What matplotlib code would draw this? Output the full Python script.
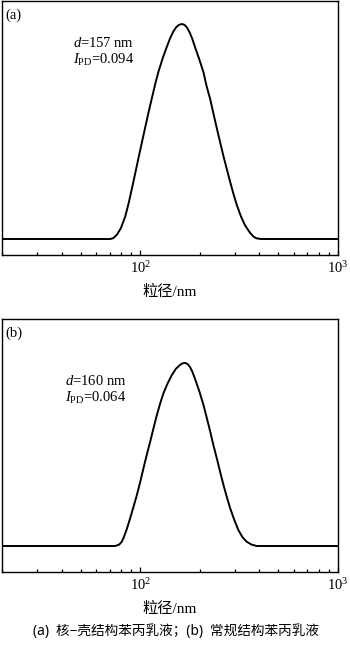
import matplotlib
matplotlib.use("Agg")
import matplotlib.pyplot as plt
from matplotlib.ticker import FixedLocator, FixedFormatter, LogLocator, NullFormatter

plt.rcParams['font.family'] = ['Liberation Serif', 'Noto Sans CJK SC']
plt.rcParams['mathtext.fontset'] = 'custom'
plt.rcParams['mathtext.rm'] = 'Liberation Serif'
plt.rcParams['mathtext.it'] = 'Liberation Serif:italic'
plt.rcParams['mathtext.bf'] = 'Liberation Serif:bold'

# Particle size distribution (a): core-shell emulsion (size in nm, relative intensity)
size_a = [20, 62.8, 70.5, 73.1, 76.2, 79.8, 84.0, 87.3, 90.8, 94.3, 98.0, 102.0,
          106.0, 110.2, 114.6, 119.0, 123.6, 129.8, 136.4, 141.8, 147.0, 152.0,
          157.0, 162.4, 167.5, 172.5, 178.0, 183.5, 189.7, 199.0, 208.9, 216.0,
          225.9, 235.0, 243.9, 253.5, 263.6, 274.0, 285.0, 296.0, 307.9, 323.0,
          339.0, 359.5, 375.0, 388.0, 408.0, 1000]
inten_a = [0, 0, 0, 0.4, 2.0, 5.0, 10.5, 16.5, 23.5, 30.5, 37.7, 45,
           52, 59, 65.6, 72, 77.8, 84, 89.5, 93.5, 96.5, 98.5,
           99.6, 100, 99.6, 98.3, 96, 93, 89, 83.5, 77.5, 71.5,
           65, 58, 51.5, 45, 38.5, 32.5, 26.5, 21, 15.8, 10.5,
           6.3, 2.8, 1.0, 0.3, 0, 0]

# Particle size distribution (b): conventional emulsion
size_b = [20, 62.8, 74.8, 78.3, 80.5, 82.4, 85.5, 89.0, 92.5, 96.2, 100.0, 103.9,
          108.0, 112.3, 116.8, 121.4, 126.2, 131.2, 137.5, 144.5, 151.5, 159.2,
          164.0, 168.8, 173.5, 178.5, 183.5, 189.7, 199.0, 208.9, 217.0, 225.9,
          234.5, 243.9, 253.5, 263.6, 274.0, 285.0, 299.0, 313.6, 329.0, 345.6,
          365.0, 388.0, 1000]
inten_b = [0, 0, 0, 0.8, 2.2, 4.5, 9.2, 15.3, 21.5, 27.9, 35, 42.6,
           50, 57.0, 64.5, 71.6, 78, 83.6, 88.8, 93.4, 96.8, 99.0,
           99.8, 100, 99.4, 97.8, 95.2, 91.0, 84.5, 77.0, 70, 62.5,
           55, 47.9, 40.5, 33.3, 26.8, 20.6, 14.2, 8.7, 4.8, 2.3,
           0.8, 0, 0]

panel_labels = ['(a)', '(b)']
d_labels = ['157', '160']
pdi_labels = ['0.094', '0.064']
tick_vals = [100, 1000]
tick_labels = ['$10^{2}$', '$10^{3}$']
xlabel = '粒径/nm'
caption = '(a)  核−壳结构苯丙乳液；(b)  常规结构苯丙乳液'

W, H = 350, 648
fig = plt.figure(figsize=(W / 100, H / 100), dpi=100)

def frac(px_left, px_top, px_right, px_bottom):
    return [px_left / W, 1 - px_bottom / H, (px_right - px_left) / W, (px_bottom - px_top) / H]

panels = [
    dict(rect=frac(2, 1, 338, 255), x=size_a, y=inten_a, ylim=(-7.44, 110.7),
         lab=(5, 15), txt=(73, 43)),
    dict(rect=frac(2, 319, 338, 572), x=size_b, y=inten_b, ylim=(-14.2, 124.0),
         lab=(5, 333), txt=(65, 381)),
]

for i, p in enumerate(panels):
    ax = fig.add_axes(p['rect'])
    ax.plot(p['x'], p['y'], color='black', lw=1.4, solid_joinstyle='round',
            solid_capstyle='round')
    ax.set_xscale('log')
    ax.set_xlim(20, 1000)
    ax.set_ylim(*p['ylim'])
    ax.xaxis.set_major_locator(FixedLocator(tick_vals))
    ax.xaxis.set_major_formatter(FixedFormatter(tick_labels))
    ax.xaxis.set_minor_locator(LogLocator(base=10, subs=range(2, 10)))
    ax.xaxis.set_minor_formatter(NullFormatter())
    ax.tick_params(axis='x', which='major', direction='in', length=3.5, width=0.9,
                   labelsize=10.5, pad=4)
    ax.tick_params(axis='x', which='minor', direction='in', length=2.2, width=0.9)
    ax.tick_params(axis='y', left=False, labelleft=False)
    for s in ax.spines.values():
        s.set_linewidth(1.0)
    ax.set_xlabel(xlabel, fontsize=11, labelpad=6)

    lx, ly = p['lab']
    fig.text(lx / W, 1 - ly / H, panel_labels[i], fontsize=10.5, va='center', ha='left')
    tx, ty = p['txt']
    fig.text(tx / W, 1 - ty / H, '$\\mathit{d}$=' + d_labels[i] + ' nm',
             fontsize=10.5, va='center', ha='left')
    fig.text(tx / W, 1 - (ty + 17) / H, '$\\mathit{I}_{\\mathrm{PD}}$=' + pdi_labels[i],
             fontsize=10.5, va='center', ha='left')

fig.text(176 / W, 1 - 632 / H, caption, fontsize=9.8, ha='center', va='center',
         family=['Noto Sans', 'Noto Sans CJK SC'])

fig.savefig('out.png', dpi=100)
